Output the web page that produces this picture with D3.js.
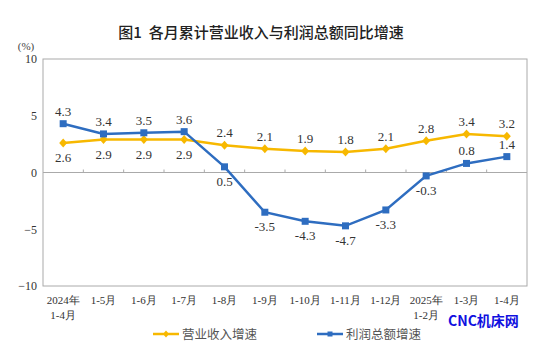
<!DOCTYPE html>
<html><head><meta charset="utf-8">
<script src="https://cdn.jsdelivr.net/npm/d3@7/dist/d3.min.js"></script>
<style>body{margin:0;background:#fff}svg{display:block}</style>
</head><body>
<svg id="c" width="553" height="349"></svg>
<script>
const categories = ["2024年|1-4月","1-5月","1-6月","1-7月","1-8月","1-9月","1-10月","1-11月","1-12月","2025年|1-2月","1-3月","1-4月"];
const revenue = [2.6,2.9,2.9,2.9,2.4,2.1,1.9,1.8,2.1,2.8,3.4,3.2];
const profit = [4.3,3.4,3.5,3.6,0.5,-3.5,-4.3,-4.7,-3.3,-0.3,0.8,1.4];
const revenueLabelBelow = [1,1,1,1,0,0,0,0,0,0,0,0];
const profitLabelBelow = [0,0,0,0,1,1,1,1,1,1,0,0];
const yTicks = [10,5,0,-5,-10];
const seriesNames = ["营业收入增速","利润总额增速"];
const colors = {rev:"#F7B800", pro:"#2E6DC0"};

const svg = d3.select("#c");
const L=43,R=527,T=59,B=286;
const x = d3.scaleBand().domain(categories).range([L,R]);
const y = d3.scaleLinear().domain([-10,10]).range([B,T]);
const serif = "'Liberation Serif','DejaVu Serif',serif";
const cjk = "'Noto Sans CJK SC',sans-serif";

svg.append("text").attr("x",261).attr("y",38).attr("text-anchor","middle")
  .style("white-space","pre")
  .attr("font-family",cjk).attr("font-size",15).attr("font-weight",500).attr("fill","#222")
  .text("图1  各月累计营业收入与利润总额同比增速");

svg.append("rect").attr("x",L).attr("y",T).attr("width",R-L).attr("height",B-T)
  .attr("fill","none").attr("stroke","#aaa").attr("stroke-width",1);

svg.append("text").attr("x",26).attr("y",50).attr("text-anchor","middle")
  .attr("font-family",serif).attr("font-size",11).attr("fill","#444").text("(%)");

const yAxis = svg.append("g").attr("transform",`translate(${L},0)`)
  .call(d3.axisLeft(y).tickValues(yTicks).tickSize(0).tickPadding(6));
yAxis.select(".domain").remove();
yAxis.selectAll("text").attr("font-family",serif).attr("font-size",12).attr("fill","#333");

// zero line
svg.append("line").attr("x1",L).attr("x2",R).attr("y1",y(0)).attr("y2",y(0)).attr("stroke","#aaa");
// ticks on zero line at band boundaries
svg.append("g").selectAll("line").data(categories.slice(1)).join("line")
  .attr("x1",d=>x(d)).attr("x2",d=>x(d)).attr("y1",y(0)).attr("y2",y(0)-3).attr("stroke","#aaa");

// x labels
const cx = d=>x(d)+x.bandwidth()/2;
const xl = svg.append("g");
categories.forEach(c=>{
  const parts=c.split("|");
  parts.forEach((p,i)=>{
    xl.append("text").attr("x",cx(c)).attr("y",304+i*15).attr("text-anchor","middle")
      .attr("font-family",serif).attr("font-size",11).attr("fill","#333").text(p);
  });
});

const line = d3.line().x((d,i)=>cx(categories[i])).y(d=>y(d));
function series(vals, col, below, marker){
  svg.append("path").datum(vals).attr("d",line).attr("fill","none").attr("stroke",col).attr("stroke-width",2.5);
  const g = svg.append("g");
  vals.forEach((v,i)=>{
    const px=cx(categories[i]), py=y(v);
    if(marker==="sq") g.append("rect").attr("x",px-3.5).attr("y",py-3.5).attr("width",7).attr("height",7).attr("fill",col);
    else g.append("path").attr("d",`M${px},${py-4.5}L${px+4},${py}L${px},${py+4.5}L${px-4},${py}Z`).attr("fill",col);
    g.append("text").attr("x",px).attr("y",below[i]?py+19:py-8).attr("text-anchor","middle")
      .attr("font-family",serif).attr("font-size",13).attr("fill","#333").text(v.toFixed(1));
  });
}
series(revenue, colors.rev, revenueLabelBelow, "dia");
series(profit, colors.pro, profitLabelBelow, "sq");

// legend
const leg=[[153,colors.rev,"dia",seriesNames[0]],[317,colors.pro,"sq",seriesNames[1]]];
leg.forEach(([lx,col,m,name])=>{
  const ly=334;
  svg.append("line").attr("x1",lx).attr("x2",lx+26).attr("y1",ly).attr("y2",ly).attr("stroke",col).attr("stroke-width",2.5);
  const mx=lx+13;
  if(m==="sq") svg.append("rect").attr("x",mx-2.5).attr("y",ly-2.5).attr("width",5).attr("height",5).attr("fill",col);
  else svg.append("path").attr("d",`M${mx},${ly-3.5}L${mx+3},${ly}L${mx},${ly+3.5}L${mx-3},${ly}Z`).attr("fill",col);
  svg.append("text").attr("x",lx+29).attr("y",ly+4.5).attr("font-family",cjk).attr("font-size",12.5).attr("fill","#555").text(name);
});

svg.append("text").attr("x",448).attr("y",326).attr("font-family","'Noto Sans CJK SC',sans-serif")
  .attr("font-weight",700).attr("font-size",14).attr("fill","#1010E0").text("CNC机床网");
</script>
</body></html>
